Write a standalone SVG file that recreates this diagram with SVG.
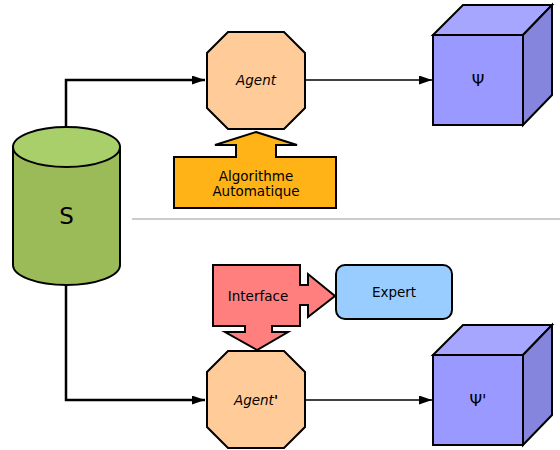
<svg xmlns="http://www.w3.org/2000/svg" width="560" height="450" viewBox="0 0 560 450">
<style>
text{font-family:"DejaVu Sans","Liberation Sans",sans-serif;fill:#000;text-anchor:middle;dominant-baseline:central}
.ln{fill:none;stroke:#000}
.sh{stroke:#000;stroke-width:2;stroke-linejoin:miter}
.oct{fill:#FFCC99}
.lb{font-size:13.5px}
.psi{font-size:16px}
</style>
<defs>
<marker id="ah" markerWidth="13" markerHeight="9" refX="13" refY="4.5" orient="auto" markerUnits="userSpaceOnUse">
<path d="M0,0 L13,4.5 L0,9 Z" fill="#000"/>
</marker>
</defs>
<rect width="560" height="450" fill="#fff"/>
<g id="connectors">
<path class="ln" d="M66,127 V80 H205" stroke-width="2.5" marker-end="url(#ah)"/>
<path class="ln" d="M66,285 V400 H205" stroke-width="2.5" marker-end="url(#ah)"/>
<path class="ln" d="M305,80 H432" stroke-width="1.5" marker-end="url(#ah)"/>
<path class="ln" d="M305,400 H432" stroke-width="1.5" marker-end="url(#ah)"/>
<line x1="132" y1="219" x2="560" y2="219" stroke="#999" stroke-width="1.2"/>
</g>
<g id="S">
<path class="sh" d="M13,147 V265 A53.5,20 0 0 0 120,265 V147 Z" fill="#9BBB59"/>
<ellipse class="sh" cx="66.5" cy="147" rx="53.5" ry="20" fill="#A8CF6A"/>
<text x="66.5" y="216" font-size="23">S</text>
</g>
<g id="agent">
<polygon class="sh oct" points="228,32 284,32 305,53 305,108 284,129 228,129 207,108 207,53"/>
<text class="lb" x="256" y="80" font-style="italic">Agent</text>
</g>
<g id="algo">
<polygon class="sh" fill="#FFB316" points="256,132 297,145 276,145 276,157 336,157 336,208 174,208 174,157 236,157 236,145 215,145"/>
<text class="lb" x="256" y="176">Algorithme</text>
<text class="lb" x="256" y="191">Automatique</text>
</g>
<g id="psi">
<polygon class="sh" fill="#A6A6FF" points="433,35 463,5 552,5 523,35"/>
<polygon class="sh" fill="#8585DD" points="523,35 552,5 552,95 523,125"/>
<rect class="sh" x="433" y="35" width="90" height="90" fill="#9999FF"/>
<text class="psi" x="478" y="80">Ψ</text>
</g>
<g id="interface">
<polygon class="sh" fill="#FF7F7F" points="213,265 300,265 300,285 308,285 308,274 335,296 308,317 308,305 300,305 300,326 272,326 272,332 288,332 257,350 225,332 245,332 245,326 213,326"/>
<text class="lb" x="258" y="296">Interface</text>
</g>
<g id="expert">
<rect class="sh" x="336" y="265" width="116" height="54" rx="9" fill="#99CCFF"/>
<text class="lb" x="394" y="292">Expert</text>
</g>
<g id="agent2">
<polygon class="sh oct" points="228,351 284,351 305,372 305,427 284,448 228,448 207,427 207,372"/>
<text class="lb" x="256" y="400"><tspan font-style="italic">Agent</tspan><tspan font-weight="bold">'</tspan></text>
</g>
<g id="psi2">
<polygon class="sh" fill="#A6A6FF" points="433,355 463,325 552,325 523,355"/>
<polygon class="sh" fill="#8585DD" points="523,355 552,325 552,415 523,445"/>
<rect class="sh" x="433" y="355" width="90" height="90" fill="#9999FF"/>
<text class="psi" x="478" y="400">Ψ'</text>
</g>
</svg>
